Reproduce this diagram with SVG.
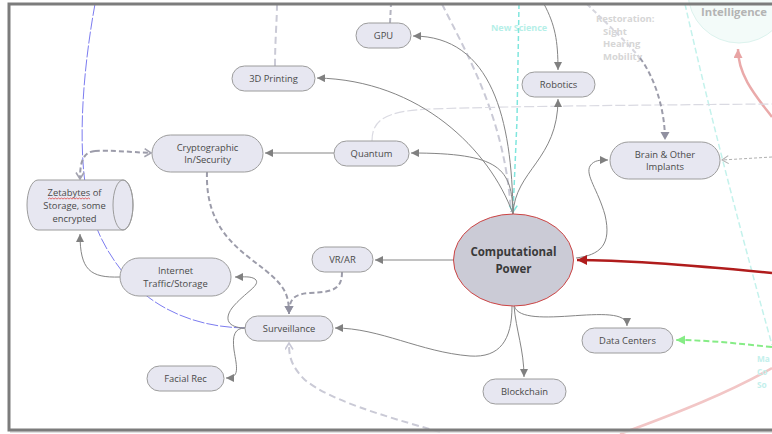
<svg xmlns="http://www.w3.org/2000/svg" width="772" height="434" viewBox="0 0 772 434">
  <style>
    .node rect, .node path.body { fill: #e7e7f1; stroke: #9c9c9c; stroke-width: 1; }
    .lbl { font-family: "Open Sans", "Noto Sans", sans-serif; font-size: 9.4px; fill: #4a4a4a; text-anchor: middle; }
    .hub { font-family: "Open Sans", "Noto Sans", sans-serif; font-size: 11.5px; font-weight: bold; fill: #3a3a3a; text-anchor: middle; }
    .faint { font-family: "Open Sans", "Noto Sans", sans-serif; font-weight: bold; }
    .link { fill: none; stroke: #858585; stroke-width: 1; }
    .dash { fill: none; stroke: #9c9caa; stroke-width: 2; stroke-dasharray: 5 3; }
    .dashlight { fill: none; stroke: #cacad6; stroke-width: 2; stroke-dasharray: 7 4; }
  </style>
  <defs>
    <marker id="arr" markerUnits="userSpaceOnUse" markerWidth="9" markerHeight="9" refX="8" refY="4" orient="auto">
      <path d="M0,0 L8,4 L0,8 Z" fill="#808080"/>
    </marker>
    <marker id="arrDash" markerUnits="userSpaceOnUse" markerWidth="10" markerHeight="10" refX="8" refY="4.5" orient="auto">
      <path d="M0,0 L8,4.5 L0,9 Z" fill="#9090a0"/>
    </marker>
    <marker id="open" markerUnits="userSpaceOnUse" markerWidth="10" markerHeight="10" refX="7" refY="4.5" orient="auto">
      <path d="M0.5,0.5 L7,4.5 L0.5,8.5" fill="none" stroke="#a4a4b0" stroke-width="1.6"/>
    </marker>
    <marker id="openLight" markerUnits="userSpaceOnUse" markerWidth="10" markerHeight="10" refX="7" refY="4.5" orient="auto">
      <path d="M0.5,0.5 L7,4.5 L0.5,8.5" fill="none" stroke="#c8c8d6" stroke-width="1.6"/>
    </marker>
    <marker id="openThin" markerUnits="userSpaceOnUse" markerWidth="10" markerHeight="10" refX="7" refY="4.5" orient="auto">
      <path d="M0.5,0.5 L7,4.5 L0.5,8.5" fill="none" stroke="#b0b0b0" stroke-width="1"/>
    </marker>
    <marker id="openCyan" markerUnits="userSpaceOnUse" markerWidth="10" markerHeight="10" refX="7" refY="4.5" orient="auto">
      <path d="M0.5,0.5 L7,4.5 L0.5,8.5" fill="none" stroke="#80e6de" stroke-width="1.5"/>
    </marker>
    <marker id="arrRed" markerUnits="userSpaceOnUse" markerWidth="12" markerHeight="12" refX="10" refY="5" orient="auto">
      <path d="M0,0 L10,5 L0,10 Z" fill="#b01c1c"/>
    </marker>
    <marker id="arrPink" markerUnits="userSpaceOnUse" markerWidth="12" markerHeight="12" refX="9" refY="4.5" orient="auto">
      <path d="M0,0 L9,4.5 L0,9 Z" fill="#e8a4a4"/>
    </marker>
    <marker id="arrGreen" markerUnits="userSpaceOnUse" markerWidth="12" markerHeight="12" refX="9" refY="4.5" orient="auto">
      <path d="M0,0 L9,4.5 L0,9 Z" fill="#86ec86"/>
    </marker>
  </defs>

  <rect width="772" height="434" fill="#ffffff"/>

  <!-- background: faint cluster and outside links -->
  <g id="background">
    <circle cx="739" cy="-8" r="51" fill="#f3fbf9" stroke="#dcf3ee" stroke-width="1"/>
    <text class="faint" x="701" y="16" font-size="11.3" fill="#b4b4b4">Intelligence</text>
    <path d="M685,4 Q718,150 772,345" fill="none" stroke="#c4f2ec" stroke-width="1.5" stroke-dasharray="6 3"/>
    <path d="M772,117 C755,95 738,75 738,49" fill="none" stroke="#eaaaaa" stroke-width="2.5" marker-end="url(#arrPink)"/>
    <path d="M620,434 C680,412 730,392 772,368" fill="none" stroke="#f2c6c6" stroke-width="2.5"/>
    <text class="faint" x="491" y="31" font-size="9" fill="#b6efe8">New Science</text>
    <text class="faint" font-size="9.5" fill="#d6d6d6">
      <tspan x="596" y="22">Restoration:</tspan>
      <tspan x="603" y="35">Sight</tspan>
      <tspan x="603" y="47">Hearing</tspan>
      <tspan x="603" y="60">Mobility</tspan>
    </text>
    <text class="faint" font-size="8.3" fill="#c4f0ec">
      <tspan x="757" y="362">Ma</tspan>
      <tspan x="757" y="375">Co</tspan>
      <tspan x="757" y="388">So</tspan>
    </text>
  </g>

  <!-- connectors -->
  <g id="connectors">
    <!-- long blue thread behind storage nodes -->
    <path d="M95,4 C83,70 78,140 86,190 C92,225 105,250 125,275 C150,305 190,327 245,328" fill="none" stroke="#7c7cf0" stroke-width="1" stroke-dasharray="12 2"/>
    <!-- faint links from above -->
    <path d="M275,66 C275,40 277,20 277,4" class="dashlight"/>
    <path d="M390,23 L391,4" fill="none" stroke="#b4b4c0" stroke-width="2" stroke-dasharray="5 3"/>
    <path d="M442,4 C470,60 505,120 511,212" class="dashlight"/>
    <path d="M372,141 C372,120 385,111 430,109 C520,106 650,105 772,104" fill="none" stroke="#dadae2" stroke-width="1.2" stroke-dasharray="10 3"/>
    <path d="M519,4 L517,120 L513,212" fill="none" stroke="#80e6de" stroke-width="1.5" stroke-dasharray="5 3" marker-end="url(#openCyan)"/>
    <path d="M587,4 C605,22 625,40 640,58" fill="none" stroke="#d6d6de" stroke-width="2" stroke-dasharray="5 3"/>
    <path d="M640,58 C655,78 665,110 665,140" class="dash" marker-end="url(#arrDash)"/>
    <path d="M772,157 L722,160" fill="none" stroke="#b0b0b0" stroke-width="1" stroke-dasharray="3 2" marker-end="url(#openThin)"/>
    <path d="M772,347 C740,344 710,340 676,340" fill="none" stroke="#86ec86" stroke-width="2" stroke-dasharray="6 3" marker-end="url(#arrGreen)"/>

    <!-- from the hub -->
    <path d="M513,214 C512,120 492,36 413,36" class="link" marker-end="url(#arr)"/>
    <path d="M513,214 C490,150 420,80 317,78" class="link" marker-end="url(#arr)"/>
    <path d="M513,214 C512,168 500,153 411,153" class="link" marker-end="url(#arr)"/>
    <path d="M513,214 C515,170 558,160 558,99" class="link" marker-end="url(#arr)"/>
    <path d="M544,4 C555,25 558,40 558,70" class="link" marker-end="url(#arr)"/>
    <path d="M454,260 L375,260" class="link" marker-end="url(#arr)"/>
    <path d="M512,306 C512,340 500,358 470,356 C420,352 380,328 335,328" class="link" marker-end="url(#arr)"/>
    <path d="M514,306 C516,330 524,350 524,377" class="link" marker-end="url(#arr)"/>
    <path d="M514,304 C515,318 540,318 570,316 C600,314 627,312 627,326" class="link" marker-end="url(#arr)"/>
    <path d="M576,258 C600,255 612,245 605,215 C598,190 585,175 590,166 C594,160 600,160 608,160" class="link" marker-end="url(#arr)"/>
    <path d="M772,273 C700,266 620,260 577,260" fill="none" stroke="#b01c1c" stroke-width="2.5" marker-end="url(#arrRed)"/>

    <!-- between outer nodes -->
    <path d="M334,153 L265,153" class="link" marker-end="url(#arr)"/>
    <path d="M120,277 C90,278 80,270 80,234" class="link" marker-end="url(#arr)"/>
    <path d="M245,328 C232,328 222,322 232,308 C245,292 262,285 255,279 C250,276 245,277 235,277" class="link" marker-end="url(#arr)"/>
    <path d="M245,328 C235,328 232,335 234,350 C237,368 240,378 226,378" class="link" marker-end="url(#arr)"/>
    <path d="M207,172 C205,230 240,250 265,270 C285,286 289,295 289,314" class="dash" marker-end="url(#arrDash)"/>
    <path d="M342,272 C342,290 332,292 310,293 C293,294 289,300 289,314" class="dash" marker-end="url(#arrDash)"/>
    <path d="M440,432 C380,415 330,400 305,380 C290,365 289,355 289,343" class="dashlight" marker-end="url(#openLight)"/>
    <path d="M95,151 C110,150 130,152 151,153" class="dash" marker-end="url(#open)"/>
    <path d="M95,151 C84,152 80,160 80,179" class="dash" marker-end="url(#open)"/>
  </g>

  <!-- nodes -->
  <g id="gpu" class="node">
    <rect x="356" y="23" width="55" height="25" rx="12.5"/>
    <text class="lbl" x="383.5" y="39">GPU</text>
  </g>
  <g id="printing3d" class="node">
    <rect x="232" y="66" width="83" height="25" rx="12.5"/>
    <text class="lbl" x="273.5" y="82">3D Printing</text>
  </g>
  <g id="robotics" class="node">
    <rect x="522" y="72" width="73" height="25" rx="12.5"/>
    <text class="lbl" x="558.5" y="88">Robotics</text>
  </g>
  <g id="crypto" class="node">
    <rect x="152" y="135" width="111" height="37" rx="18.5"/>
    <text class="lbl" x="207.5" y="150.5">Cryptographic</text>
    <text class="lbl" x="207.5" y="163">In/Security</text>
  </g>
  <g id="quantum" class="node">
    <rect x="334" y="141" width="75" height="25" rx="12.5"/>
    <text class="lbl" x="371.5" y="157">Quantum</text>
  </g>
  <g id="implants" class="node">
    <rect x="610" y="142" width="110" height="37" rx="18.5"/>
    <text class="lbl" x="665" y="157.5">Brain &amp; Other</text>
    <text class="lbl" x="665" y="170">Implants</text>
  </g>
  <g id="storage" class="node">
    <path class="body" d="M38,180 L123,180 A10,25 0 0 1 123,230 L38,230 A11,25 0 0 1 38,180 Z"/>
    <ellipse cx="123" cy="205" rx="10" ry="25" fill="none" stroke="#9c9c9c" stroke-width="1"/>
    <text class="lbl" x="74.5" y="195.5">Zetabytes of</text>
    <text class="lbl" x="74.5" y="208.5">Storage, some</text>
    <text class="lbl" x="74.5" y="221.5">encrypted</text>
    <path d="M48,199 l1.5,-1 l1.5,1 l1.5,-1 l1.5,1 l1.5,-1 l1.5,1 l1.5,-1 l1.5,1 l1.5,-1 l1.5,1 l1.5,-1 l1.5,1 l1.5,-1 l1.5,1 l1.5,-1 l1.5,1 l1.5,-1 l1.5,1 l1.5,-1 l1.5,1 l1.5,-1 l1.5,1 l1.5,-1 l1.5,1 l1.5,-1 l1.5,1 l1.5,-1 l1.5,1" fill="none" stroke="#e04848" stroke-width="0.8"/>
  </g>
  <g id="traffic" class="node">
    <rect x="120" y="258" width="111" height="38" rx="19"/>
    <text class="lbl" x="175.5" y="274">Internet</text>
    <text class="lbl" x="175.5" y="287">Traffic/Storage</text>
  </g>
  <g id="vrar" class="node">
    <rect x="312" y="247" width="61" height="25" rx="12.5"/>
    <text class="lbl" x="342.5" y="263">VR/AR</text>
  </g>
  <g id="hub">
    <ellipse cx="513.5" cy="260" rx="60" ry="46" fill="#cbcbd6" stroke="#cc4444" stroke-width="1"/>
    <text class="hub" x="513.5" y="256">Computational</text>
    <text class="hub" x="513.5" y="272.5">Power</text>
  </g>
  <g id="surveillance" class="node">
    <rect x="245" y="316" width="88" height="25" rx="12.5"/>
    <text class="lbl" x="289" y="332">Surveillance</text>
  </g>
  <g id="facialrec" class="node">
    <rect x="147" y="366" width="77" height="25" rx="12.5"/>
    <text class="lbl" x="185.5" y="382">Facial Rec</text>
  </g>
  <g id="blockchain" class="node">
    <rect x="483" y="379" width="83" height="25" rx="12.5"/>
    <text class="lbl" x="524.5" y="395">Blockchain</text>
  </g>
  <g id="datacenters" class="node">
    <rect x="582" y="328" width="91" height="25" rx="12.5"/>
    <text class="lbl" x="627.5" y="344">Data Centers</text>
  </g>

  <!-- page frame -->
  <g id="frame">
    <path d="M772,432 L10,432" fill="none" stroke="#d4d4d4" stroke-width="1.5"/>
    <path d="M780,4 L9,4 L9,430 L780,430" fill="none" stroke="#7c7c7c" stroke-width="3"/>
  </g>
</svg>
